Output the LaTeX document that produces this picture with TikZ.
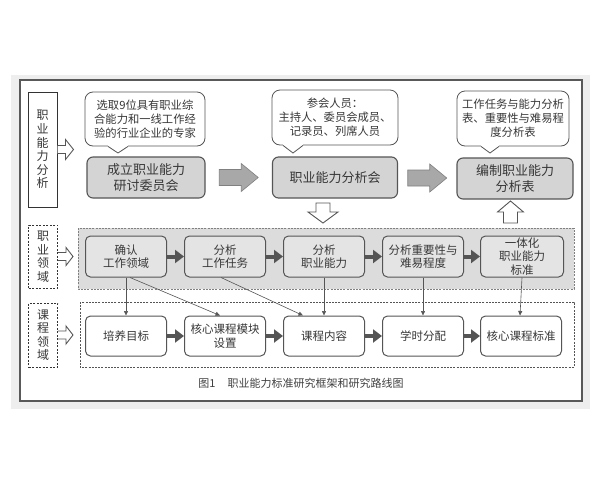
\documentclass[tikz,border=0pt]{standalone}
\usepackage{fontspec}
\setmainfont{Noto Sans CJK SC}
\usetikzlibrary{arrows.meta,calc}
\definecolor{cLine}{RGB}{85,85,85}
\definecolor{cText}{RGB}{55,55,55}
\definecolor{cBox}{RGB}{212,212,212}
\definecolor{cBand}{RGB}{220,220,220}
\definecolor{cCell}{RGB}{228,228,228}
\definecolor{cBig}{RGB}{168,168,168}
\definecolor{cFrame}{RGB}{238,238,238}

\begin{document}
\begin{tikzpicture}[x=1pt,y=-1pt,
    every node/.style={font=\fontsize{11.3}{14}\selectfont,text=cText},
    stage/.style={draw=cLine,line width=1.1pt,rounded corners=6pt,fill=cBox,
      minimum height=41pt,align=center,inner sep=2pt,font=\fontsize{13}{16}\selectfont},
    note/.style={draw=cLine,line width=0.8pt,rounded corners=8pt,fill=white,
      align=center,inner sep=2pt},
    cell/.style={draw=cLine,line width=1pt,rounded corners=5pt,fill=cCell,
      minimum width=81pt,minimum height=41pt,align=center,inner sep=1pt,
      font=\fontsize{11.5}{13.5}\selectfont},
    course/.style={cell,fill=white,minimum height=40pt},
    side/.style={draw=black!80,line width=1pt,fill=white,minimum width=29pt,
      align=center,inner sep=0pt,font=\fontsize{12}{13.6}\selectfont},
    sidedash/.style={side,dash pattern=on 2pt off 1.5pt},
    band/.style={draw=gray,line width=0.6pt,dash pattern=on 2pt off 1.2pt},
    hollow/.style={draw=cLine,line width=0.9pt,fill=white,line join=miter},
    bigarrow/.style={draw=gray,line width=0.6pt,fill=cBig},
    flow/.style={draw=cLine,line width=4pt,-{Triangle[length=9pt,width=13pt]}},
    link/.style={draw=cLine,line width=0.6pt,-{Triangle[length=4.5pt,width=4pt]}}]
  \useasboundingbox (0,0) rectangle (600,480);
  % frame
  \fill[cFrame] (11,75) rectangle (590,409);
  \draw[draw=gray!70!black,line width=1.2pt,fill=white] (20,80) rectangle (582,401);

  % row 1: analysis
  \node[side,minimum height=115pt] (sa) at (42.5,149.5) {职\\业\\能\\力\\分\\析};
  \draw[hollow,shift={(sa.east)}] (0,-4) -- (8,-4) -- (8,-10) -- (16,0) -- (8,10) -- (8,4) -- (0,4);

  \node[note,minimum width=120pt,minimum height=54pt] (q1) at (145,119)
    {选取9位具有职业综\\合能力和一线工作经\\验的行业企业的专家};
  \node[note,minimum width=126pt,minimum height=55pt] (q2) at (335,117.5)
    {参会人员：\\主持人、委员会成员、\\记录员、列席人员};
  \node[note,minimum width=112pt,minimum height=55pt] (q3) at (513,118.5)
    {工作任务与能力分析\\表、重要性与难易程\\度分析表};
  \coordinate (t1) at (118,153);
  \coordinate (t2) at (293,153);
  \coordinate (t3) at (490,153);
  \fill[white] ([xshift=-37pt,yshift=1.5pt]q1.south) rectangle ([xshift=-17pt,yshift=-1pt]q1.south);
  \filldraw[fill=white,draw=cLine,line width=0.8pt] ([xshift=-37pt]q1.south) -- (t1) -- ([xshift=-17pt]q1.south);
  \fill[white] ([xshift=-52pt,yshift=1.5pt]q2.south) rectangle ([xshift=-32pt,yshift=-1pt]q2.south);
  \filldraw[fill=white,draw=cLine,line width=0.8pt] ([xshift=-52pt]q2.south) -- (t2) -- ([xshift=-32pt]q2.south);
  \fill[white] ([xshift=-32pt,yshift=1.5pt]q3.south) rectangle ([xshift=-14pt,yshift=-1pt]q3.south);
  \filldraw[fill=white,draw=cLine,line width=0.8pt] ([xshift=-32pt]q3.south) -- (t3) -- ([xshift=-14pt]q3.south);

  \node[stage,minimum width=118pt] (b1) at (146,177.5) {成立职业能力\\研讨委员会};
  \node[stage,minimum width=125pt] (b2) at (335,177.5) {职业能力分析会};
  \node[stage,minimum width=116pt] (b3) at (515,178.5) {编制职业能力\\分析表};
  \draw[bigarrow,shift={($(b1.east)!0.5!(b2.west)$)}]
    (-19.5,-8) -- (2.5,-8) -- (2.5,-14) -- (19.5,0) -- (2.5,14) -- (2.5,8) -- (-19.5,8) -- cycle;
  \draw[bigarrow,shift={($(b2.east)!0.5!(b3.west)$)}]
    (-19.5,-8) -- (2.5,-8) -- (2.5,-14) -- (19.5,0) -- (2.5,14) -- (2.5,8) -- (-19.5,8) -- cycle;
  % down / up hollow arrows
  \draw[hollow,shift={(323,203)}] (-7,0) -- (7,0) -- (7,9) -- (15,9) -- (0,20) -- (-15,9) -- (-7,9) -- cycle;
  \draw[hollow,shift={(510.5,201)}] (0,0) -- (13,11) -- (7,11) -- (7,22) -- (-7,22) -- (-7,11) -- (-13,11) -- cycle;

  % row 2: occupation field
  \node[sidedash,minimum height=63pt] (sb) at (43,256.5) {职\\业\\领\\域};
  \draw[hollow,shift={(sb.east)}] (0,-4) -- (8,-4) -- (8,-9) -- (15,0) -- (8,9) -- (8,4) -- (0,4);
  \draw[band,fill=cBand] (78,228) rectangle (574,289);
  \node[cell] (r2a) at (126,256.5) {确认\\工作领域};
  \node[cell] (r2b) at (225,256.5) {分析\\工作任务};
  \node[cell] (r2c) at (324,256.5) {分析\\职业能力};
  \node[cell] (r2d) at (423,256.5) {分析重要性与\\难易程度};
  \node[cell,minimum width=83pt] (r2e) at (522,256.5) {一体化\\职业能力\\标准};
  \draw[flow] (r2a) -- (r2b);
  \draw[flow] (r2b) -- (r2c);
  \draw[flow] (r2c) -- (r2d);
  \draw[flow] (r2d) -- (r2e);

  % row 3: course field
  \node[sidedash,minimum height=64pt] (sc) at (43,335) {课\\程\\领\\域};
  \draw[hollow,shift={(sc.east)}] (0,-4) -- (8,-4) -- (8,-9) -- (15,0) -- (8,9) -- (8,4) -- (0,4);
  \draw[band,draw=cLine] (80,302) rectangle (574,367);
  \node[course] (r3a) at (126,336) {培养目标};
  \node[course] (r3b) at (225,336) {核心课程模块\\设置};
  \node[course] (r3c) at (324,336) {课程内容};
  \node[course] (r3d) at (423,336) {学时分配};
  \node[course] (r3e) at (521,336) {核心课程标准};
  \draw[flow] (r3a) -- (r3b);
  \draw[flow] (r3b) -- (r3c);
  \draw[flow] (r3c) -- (r3d);
  \draw[flow] (r3d) -- (r3e);

  % links between rows
  \draw[link] (r2a.south) -- (r3a.north);
  \draw[link] ([xshift=4pt]r2a.south) -- ([xshift=-5pt]r3b.north);
  \draw[link] ([xshift=-4pt]r2b.south) -- ([xshift=-21pt]r3c.north);
  \draw[link] (r2c.south) -- (r3c.north);
  \draw[link] (r2d.south) -- (r3d.north);
  \draw[link] (r2e.south) -- ([xshift=-1pt]r3e.north);

  \node[font=\fontsize{11}{13}\selectfont,text=black!75] (cap) at (301,383)
    {图1\hspace{12pt}职业能力标准研究框架和研究路线图};
\end{tikzpicture}
\end{document}
